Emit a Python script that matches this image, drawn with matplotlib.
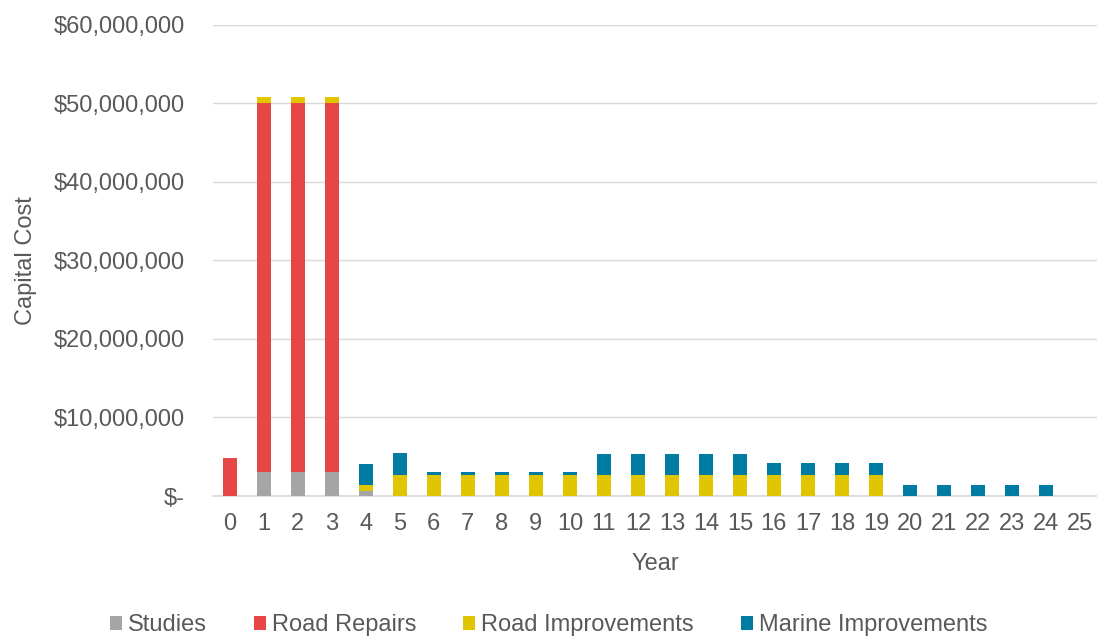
import matplotlib
matplotlib.use("Agg")
import matplotlib.pyplot as plt
import numpy as np

plt.rcParams['font.family'] = ['Liberation Sans', 'DejaVu Sans']

# Data (values in dollars)
years = list(range(0, 26))
studies = [0, 3.0e6, 3.0e6, 3.0e6, 0.68e6] + [0] * 21
road_repairs = [4.9e6, 47.0e6, 47.0e6, 47.0e6] + [0] * 22
road_improvements = ([0, 0.8e6, 0.8e6, 0.8e6, 0.68e6]
                     + [2.72e6] * 15 + [0] * 6)
marine_improvements = ([0, 0, 0, 0, 2.7e6, 2.72e6]
                       + [0.34e6] * 5 + [2.65e6] * 5 + [1.48e6] * 4
                       + [1.45e6] * 5 + [0])

labels = ["Studies", "Road Repairs", "Road Improvements", "Marine Improvements"]
colors = ["#A5A5A5", "#E64646", "#E0C600", "#007BA2"]
text_color = "#595959"
fs = 17

fig = plt.figure(figsize=(10.97, 6.42), dpi=100)
ax = fig.add_axes([0.194, 0.2274, 0.806, 0.734])

x = np.array(years)
bottom = np.zeros(len(years))
for vals, lab, col in zip([studies, road_repairs, road_improvements, marine_improvements], labels, colors):
    vals = np.array(vals)
    ax.bar(x, vals, width=0.42, bottom=bottom, color=col, label=lab, zorder=3)
    bottom += vals

ax.set_xlim(-0.5, 25.5)
ax.set_ylim(0, 60e6)
ax.set_yticks(np.arange(0, 60e6 + 1, 10e6))
ax.set_yticklabels(["$-"] + [f"${int(v):,}" for v in np.arange(10e6, 60e6 + 1, 10e6)])
ax.set_xticks(x)
ax.set_xticklabels([str(y) for y in years])

ax.grid(axis='y', color="#D9D9D9", linewidth=1, zorder=0)
for s in ["top", "right", "left"]:
    ax.spines[s].set_visible(False)
ax.spines["bottom"].set_color("#D9D9D9")
ax.spines["bottom"].set_linewidth(1.2)
ax.tick_params(axis='both', length=0, labelsize=fs, colors=text_color)
ax.tick_params(axis='y', pad=20)
ax.tick_params(axis='x', pad=12)

ax.set_xlabel("Year", fontsize=fs, color=text_color, labelpad=13)
ax.set_ylabel("Capital Cost", fontsize=fs, color=text_color, labelpad=12)

fig.legend(loc="lower center", bbox_to_anchor=(0.5, -0.024), ncol=4, frameon=False,
           fontsize=fs, labelcolor=text_color, handlelength=0.5, handleheight=0.5,
           handletextpad=0.25, columnspacing=2.0)

fig.savefig("out.png", dpi=100)
